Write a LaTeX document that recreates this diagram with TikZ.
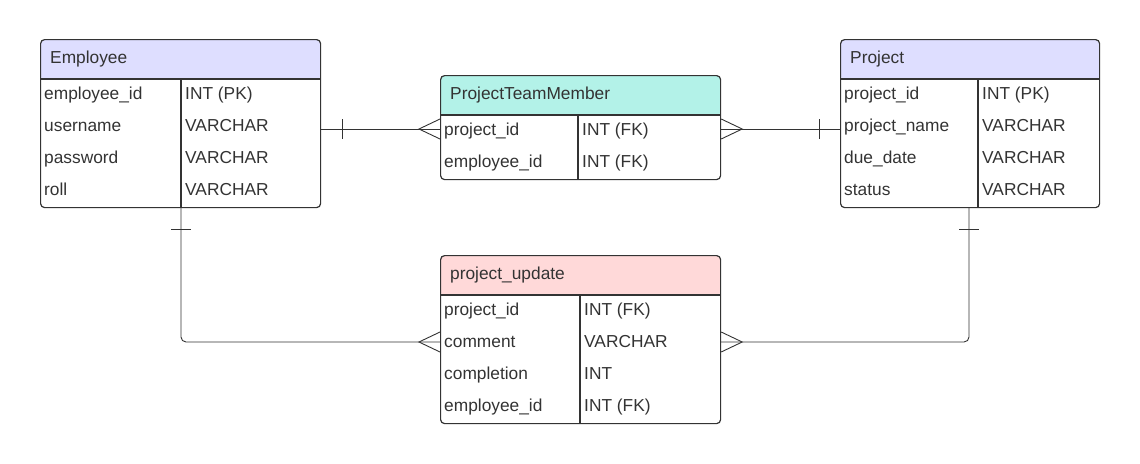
\documentclass[tikz,border=0pt]{standalone}
\usepackage{fontspec}
\setmainfont{Liberation Sans}
\usetikzlibrary{positioning}
\definecolor{ink}{HTML}{333333}
\definecolor{lav}{HTML}{DEDEFF}
\definecolor{mint}{HTML}{B3F2E8}
\definecolor{rose}{HTML}{FFD9D9}

\begin{document}
\begin{tikzpicture}[x=1pt, y=1pt, every node/.style={font=\fontsize{17.33}{20}\selectfont, text=ink},
  tbl/.style={draw=ink, line width=1.2pt, rounded corners=4pt, anchor=north west, inner sep=0pt, minimum width=280pt},
  hdr/.style={path picture={\fill[#1] (path picture bounding box.north west) rectangle ([yshift=-40pt]path picture bounding box.north east);}},
  fld/.style={anchor=west, inner sep=0pt, text height=12pt, text depth=0pt},
  rule/.style={draw=ink, line width=1.2pt},
  link/.style={draw=ink, line width=0.9pt, rounded corners=5pt},
  sym/.style={draw=ink, line width=0.9pt}]
\useasboundingbox (0,0) rectangle (1140,-463);
% tables
\node[tbl, hdr=lav, minimum height=168pt] (emp) at (40,-39) {};
\node[tbl, hdr=mint, minimum height=104pt] (ptm) at (440,-75) {};
\node[tbl, hdr=lav, minimum height=168pt, minimum width=259pt] (prj) at (840,-39) {};
\node[tbl, hdr=rose, minimum height=168pt] (pu) at (440,-255) {};
\foreach \t/\d in {emp/141, ptm/138, prj/138, pu/140} {
  \draw[rule] ([yshift=-40pt]\t.north west) -- ([yshift=-40pt]\t.north east);
  \draw[rule] ([xshift=\d pt, yshift=-40pt]\t.north west) -- ([xshift=\d pt]\t.south west);
}
\node[fld] (emp-h) at ([xshift=10pt, yshift=-18pt]emp.north west) {Employee};
\node[fld] (ptm-h) at ([xshift=10pt, yshift=-18pt]ptm.north west) {ProjectTeamMember};
\node[fld] (prj-h) at ([xshift=10pt, yshift=-18pt]prj.north west) {Project};
\node[fld] (pu-h) at ([xshift=10pt, yshift=-18pt]pu.north west) {project\_update};
\foreach \f/\y [count=\i] in {employee\_id/INT (PK), username/VARCHAR, password/VARCHAR, roll/VARCHAR} {
  \node[fld] (emp-\i) at ([xshift=4pt, yshift={-22pt-32pt*\i}]emp.north west) {\f};
  \node[fld] (emp-t\i) at ([xshift=145pt, yshift={-22pt-32pt*\i}]emp.north west) {\y};
}
\foreach \f/\y [count=\i] in {project\_id/INT (FK), employee\_id/INT (FK)} {
  \node[fld] (ptm-\i) at ([xshift=4pt, yshift={-22pt-32pt*\i}]ptm.north west) {\f};
  \node[fld] (ptm-t\i) at ([xshift=142pt, yshift={-22pt-32pt*\i}]ptm.north west) {\y};
}
\foreach \f/\y [count=\i] in {project\_id/INT (PK), project\_name/VARCHAR, due\_date/VARCHAR, status/VARCHAR} {
  \node[fld] (prj-\i) at ([xshift=4pt, yshift={-22pt-32pt*\i}]prj.north west) {\f};
  \node[fld] (prj-t\i) at ([xshift=142pt, yshift={-22pt-32pt*\i}]prj.north west) {\y};
}
\foreach \f/\y [count=\i] in {project\_id/INT (FK), comment/VARCHAR, completion/INT, employee\_id/INT (FK)} {
  \node[fld] (pu-\i) at ([xshift=4pt, yshift={-22pt-32pt*\i}]pu.north west) {\f};
  \node[fld] (pu-t\i) at ([xshift=144pt, yshift={-22pt-32pt*\i}]pu.north west) {\y};
}
% relations
\coordinate (a1) at (emp.east |- ptm-1);
\coordinate (b1) at (ptm.west |- ptm-1);
\draw[link] (a1) -- (b1);
\draw[sym] ([xshift=21pt]a1) ++(0,10) -- ++(0,-20);
\draw[sym] ([yshift=10pt]b1) -- ([xshift=-21pt]b1) -- ([yshift=-10pt]b1);
\coordinate (a2) at (prj.west |- ptm-1);
\coordinate (b2) at (ptm.east |- ptm-1);
\draw[link] (a2) -- (b2);
\draw[sym] ([xshift=-21pt]a2) ++(0,10) -- ++(0,-20);
\draw[sym] ([yshift=10pt]b2) -- ([xshift=21pt]b2) -- ([yshift=-10pt]b2);
\coordinate (a3) at ([xshift=141pt]emp.south west);
\coordinate (b3) at ([yshift=-1pt]pu.west |- pu-2);
\draw[link] (a3) |- (b3);
\draw[sym] ([yshift=-21pt]a3) ++(-10,0) -- ++(20,0);
\draw[sym] ([yshift=10pt]b3) -- ([xshift=-21pt]b3) -- ([yshift=-10pt]b3);
\coordinate (a4) at ([xshift=129pt]prj.south west);
\coordinate (b4) at ([yshift=-1pt]pu.east |- pu-2);
\draw[link] (a4) |- (b4);
\draw[sym] ([yshift=-21pt]a4) ++(-10,0) -- ++(20,0);
\draw[sym] ([yshift=10pt]b4) -- ([xshift=21pt]b4) -- ([yshift=-10pt]b4);
\end{tikzpicture}
\end{document}
